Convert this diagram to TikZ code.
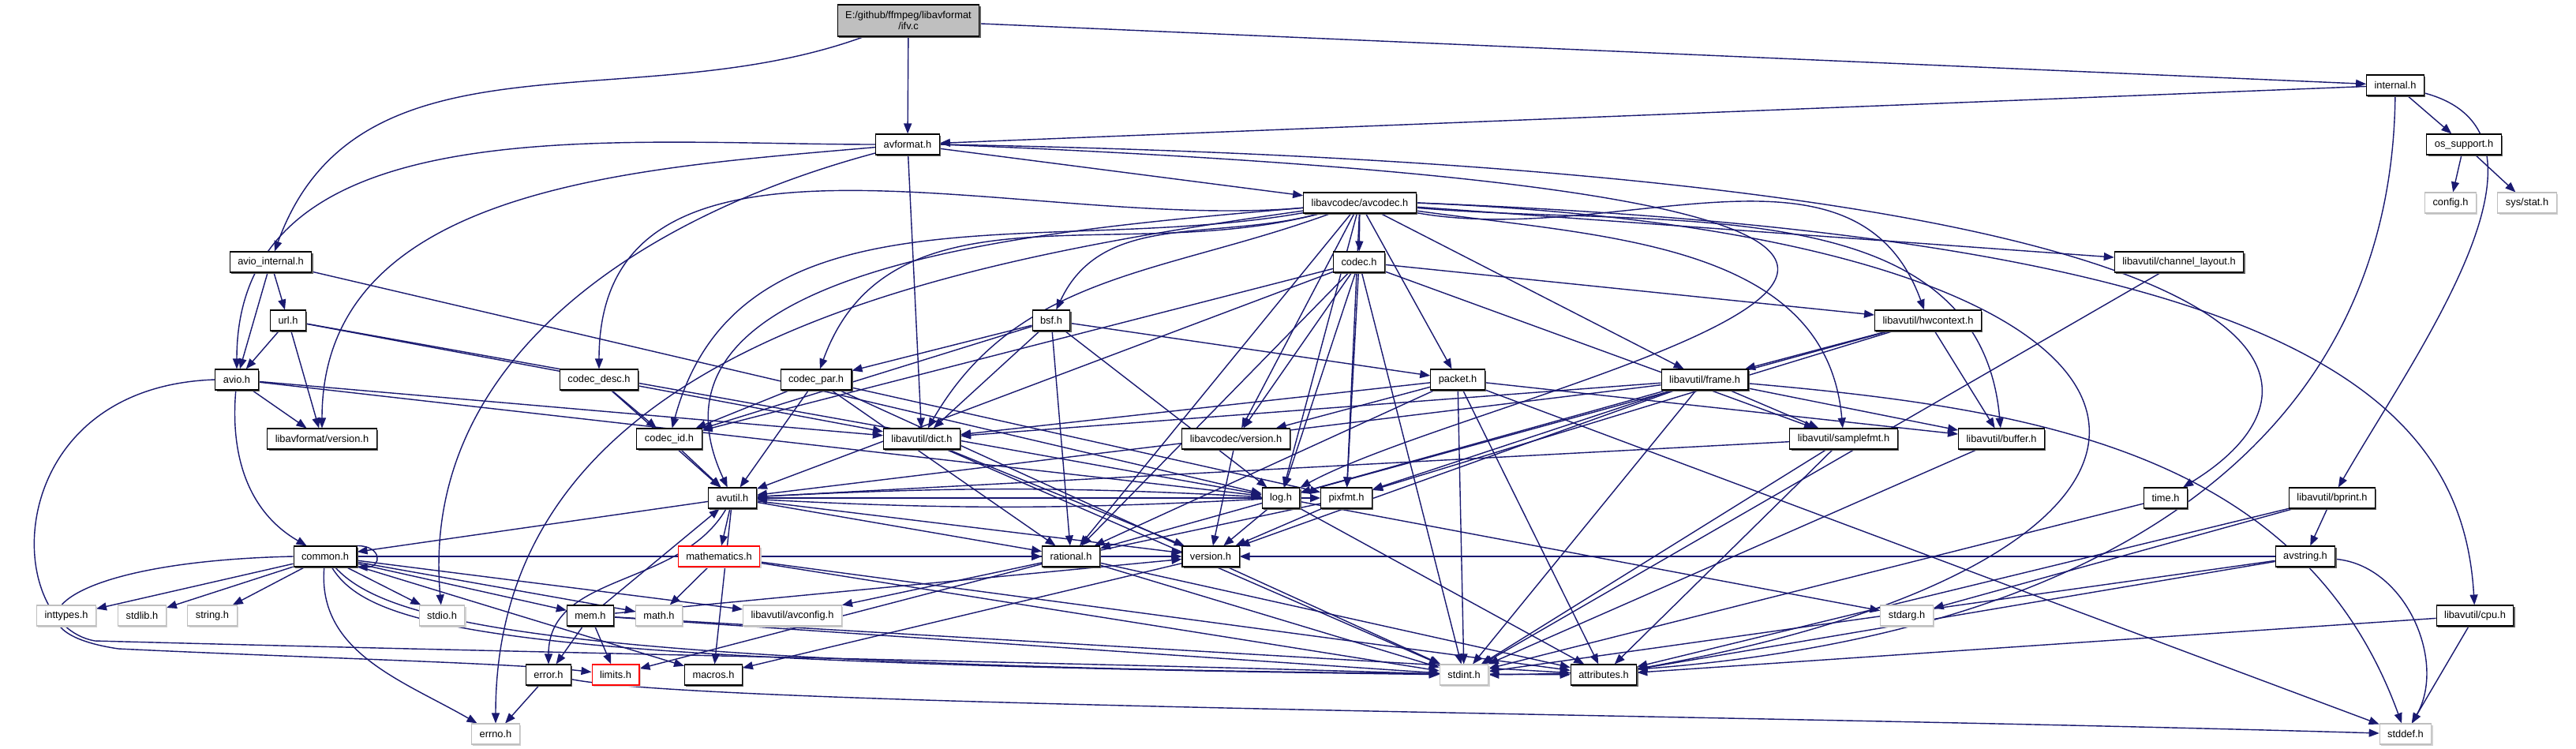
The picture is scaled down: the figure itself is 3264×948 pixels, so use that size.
\documentclass[tikz,border=0pt]{standalone}
\usepackage{fontspec}
\setmainfont{Liberation Sans}
\usepackage{tikz}
\usetikzlibrary{arrows.meta, positioning, shadows}
\definecolor{edgeblue}{RGB}{25,25,112}
\definecolor{sysgrey}{RGB}{191,191,191}
\definecolor{rootgrey}{RGB}{191,191,191}
\definecolor{shadegrey}{RGB}{95,95,95}
\pgfdeclarelayer{paper}
\pgfdeclarelayer{edges}
\pgfsetlayers{paper,edges,main}
\tikzset{
  filebox/.style={rectangle, fill=white, line width=0.3pt,
    inner xsep=0.1cm, inner ysep=0pt, minimum height=0.26cm,
    font=\fontsize{3.65}{4}\selectfont},
  hdrbox/.style={filebox, draw=black,
    drop shadow={shadow xshift=0.018cm, shadow yshift=-0.018cm, fill=shadegrey, opacity=1}},
  sysbox/.style={filebox, draw=sysgrey,
    drop shadow={shadow xshift=0.018cm, shadow yshift=-0.018cm, fill=sysgrey!70, opacity=1}},
  cutbox/.style={filebox, draw=red,
    drop shadow={shadow xshift=0.018cm, shadow yshift=-0.018cm, fill=sysgrey!70, opacity=1}},
  rootbox/.style={hdrbox, fill=rootgrey, minimum height=0.4cm, align=center},
  inc/.style={-{Triangle[length=0.13cm, width=0.1cm]}, color=edgeblue, line width=0.4pt}
}

\begin{document}
\begin{tikzpicture}[x=0.01cm, y=0.01cm]
  \begin{pgfonlayer}{paper}
    \fill[white] (0,0) rectangle (3264,-948);
  \end{pgfonlayer}
  \useasboundingbox (0,0) rectangle (3264,-948);

  % libavformat
  \node[rootbox] (ifv) at (1151,-26) {E:/github/ffmpeg/libavformat\\/ifv.c};
  \node[hdrbox] (avformat) at (1150,-183) {avformat.h};
  \node[hdrbox] (internal) at (3035,-108) {internal.h};
  \node[hdrbox] (ossupport) at (3122,-183) {os\_support.h};
  \node[sysbox] (config) at (3105,-257) {config.h};
  \node[sysbox] (sysstat) at (3202,-257) {sys/stat.h};
  \node[hdrbox] (aviointernal) at (343,-332) {avio\_internal.h};
  \node[hdrbox] (url) at (365,-406) {url.h};
  \node[hdrbox] (avio) at (300,-481) {avio.h};
  \node[hdrbox] (lavfversion) at (408,-556) {libavformat/version.h};

  % libavcodec
  \node[hdrbox] (avcodec) at (1723,-257) {libavcodec/avcodec.h};
  \node[hdrbox] (codec) at (1722,-332) {codec.h};
  \node[hdrbox] (bsf) at (1332,-406) {bsf.h};
  \node[hdrbox] (codecdesc) at (759,-481) {codec\_desc.h};
  \node[hdrbox] (codecpar) at (1034,-481) {codec\_par.h};
  \node[hdrbox] (packet) at (1847,-481) {packet.h};
  \node[hdrbox] (codecid) at (848,-556) {codec\_id.h};
  \node[hdrbox] (lavcversion) at (1566,-556) {libavcodec/version.h};

  % libavutil
  \node[hdrbox] (chlayout) at (2761,-332) {libavutil/channel\_layout.h};
  \node[hdrbox] (hwcontext) at (2443,-406) {libavutil/hwcontext.h};
  \node[hdrbox] (frame) at (2160,-481) {libavutil/frame.h};
  \node[hdrbox] (dict) at (1168,-556) {libavutil/dict.h};
  \node[hdrbox] (samplefmt) at (2336,-556) {libavutil/samplefmt.h};
  \node[hdrbox] (buffer) at (2536,-556) {libavutil/buffer.h};
  \node[hdrbox] (avutil) at (928,-631) {avutil.h};
  \node[hdrbox] (log) at (1623,-631) {log.h};
  \node[hdrbox] (pixfmt) at (1706,-631) {pixfmt.h};
  \node[hdrbox] (time) at (2744,-631) {time.h};
  \node[hdrbox] (bprint) at (2955,-631) {libavutil/bprint.h};
  \node[hdrbox] (common) at (412,-705) {common.h};
  \node[cutbox] (mathematics) at (911,-705) {mathematics.h};
  \node[hdrbox] (rational) at (1357,-705) {rational.h};
  \node[hdrbox] (version) at (1534,-705) {version.h};
  \node[hdrbox] (avstring) at (2921,-705) {avstring.h};
  \node[hdrbox] (mem) at (748,-780) {mem.h};
  \node[hdrbox] (cpu) at (3136,-780) {libavutil/cpu.h};
  \node[hdrbox] (error) at (695,-855) {error.h};
  \node[cutbox] (limits) at (780,-855) {limits.h};
  \node[hdrbox] (macros) at (904,-855) {macros.h};
  \node[hdrbox] (attributes) at (2032,-855) {attributes.h};

  % system headers
  \node[sysbox] (inttypes) at (84,-780) {inttypes.h};
  \node[sysbox] (stdlib) at (180,-780) {stdlib.h};
  \node[sysbox] (string) at (269,-780) {string.h};
  \node[sysbox] (stdio) at (560,-780) {stdio.h};
  \node[sysbox] (math) at (835,-780) {math.h};
  \node[sysbox] (avconfig) at (1004,-780) {libavutil/avconfig.h};
  \node[sysbox] (stdarg) at (2416,-780) {stdarg.h};
  \node[sysbox] (stdint) at (1855,-855) {stdint.h};
  \node[sysbox] (errno) at (628,-930) {errno.h};
  \node[sysbox] (stddef) at (3048,-930) {stddef.h};

  \begin{pgfonlayer}{edges}
  % root and libavformat
  \draw[inc] (ifv) -- (avformat);
  \draw[inc] (ifv) to[out=200, in=70] (aviointernal);
  \draw[inc] (ifv) -- (internal);
  \draw[inc] (internal) -- (avformat);
  \draw[inc] (internal) -- (ossupport);
  \draw[inc] (internal) .. controls (3030,-600) and (2600,-850) .. (stdint);
  \draw[inc] (internal) to[out=-15, in=60] (bprint);
  \foreach \t in {config,sysstat} \draw[inc] (ossupport) -- (\t);
  \draw[inc] (avformat) to[out=180, in=90] (avio);
  \draw[inc] (avformat) to[out=185, in=90] (lavfversion);
  \draw[inc] (avformat) to[out=195, in=95] (stdio);
  \draw[inc] (avformat) -- (dict);
  \draw[inc] (avformat) -- (avcodec);
  \draw[inc] (avformat.east) .. controls (2950,-215) and (2990,-480) .. (time);
  \draw[inc] (avformat.east) .. controls (3100,-260) and (1900,-480) .. (log);
  \foreach \t in {avio,url,log} \draw[inc] (aviointernal) -- (\t);
  \foreach \t in {avio,lavfversion,dict,log} \draw[inc] (url) -- (\t);
  \foreach \t in {lavfversion,dict,log} \draw[inc] (avio) -- (\t);
  \draw[inc] (avio) to[out=-95, in=150] (common);
  \draw[inc] (avio.west) .. controls (0,-490) and (0,-790) .. (120,-812)
    .. controls (800,-830) and (1400,-840) .. (stdint);

  % libavcodec
  \draw[inc] (avcodec) -- (codec);
  \draw[inc] (avcodec) to[out=195, in=65] (bsf);
  \draw[inc] (avcodec) to[out=185, in=90] (codecdesc);
  \draw[inc] (avcodec) to[out=190, in=75] (codecid);
  \draw[inc] (avcodec) to[out=195, in=70] (codecpar);
  \draw[inc] (avcodec) to[out=185, in=115] (avutil);
  \draw[inc] (avcodec) to[out=188, in=90] (errno);
  \draw[inc] (avcodec) to[out=200, in=60] (dict);
  \foreach \t in {packet,lavcversion,log,pixfmt,rational,frame,chlayout}
    \draw[inc] (avcodec) -- (\t);
  \draw[inc] (avcodec) to[out=-10, in=110] (hwcontext);
  \draw[inc] (avcodec) to[out=-8, in=95] (samplefmt);
  \draw[inc] (avcodec) to[out=-5, in=95] (buffer);
  \draw[inc] (avcodec.east) .. controls (2900,-300) and (3120,-500) .. (cpu);
  \draw[inc] (avcodec.east) .. controls (2850,-300) and (2900,-700) .. (attributes);
  \foreach \t in {codecid,lavcversion,log,pixfmt,rational,avutil,stdint,hwcontext,samplefmt}
    \draw[inc] (codec) -- (\t);
  \foreach \t in {dict,log,rational,codecid,codecpar,packet} \draw[inc] (bsf) -- (\t);
  \foreach \t in {avutil,codecid} \draw[inc] (codecdesc) -- (\t);
  \foreach \t in {stdint,avutil,rational,pixfmt,codecid} \draw[inc] (codecpar) -- (\t);
  \draw[inc] (codecid) -- (avutil);
  \foreach \t in {stddef,stdint,attributes,buffer,dict,rational,lavcversion}
    \draw[inc] (packet) -- (\t);
  \draw[inc] (lavcversion) -- (version);

  % libavutil
  \draw[inc] (frame) to[out=-5, in=110] (stddef);
  \foreach \t in {stdint,avutil,buffer,dict,rational,samplefmt,pixfmt,version}
    \draw[inc] (frame) -- (\t);
  \foreach \t in {buffer,frame,log,pixfmt} \draw[inc] (hwcontext) -- (\t);
  \foreach \t in {stdint,avutil,attributes} \draw[inc] (samplefmt) -- (\t);
  \draw[inc] (buffer) -- (stdint);
  \draw[inc] (dict) -- (stdint);
  \draw[inc] (dict) -- (version);
  \draw[inc] (chlayout) -- (stdint);
  \draw[inc] (cpu) -- (stddef);
  \draw[inc] (cpu) -- (attributes);
  \draw[inc] (time) -- (stdint);
  \foreach \t in {stdarg,attributes,avstring} \draw[inc] (bprint) -- (\t);
  \draw[inc] (avstring) to[out=-5, in=60] (stddef);
  \foreach \t in {stdint,attributes,version} \draw[inc] (avstring) -- (\t);
  \foreach \t in {common,rational,version,macros,mathematics,pixfmt}
    \draw[inc] (avutil) -- (\t);
  \draw[inc] (avutil) to[out=-120, in=90] (error);
  \draw[inc] (avutil) to[bend left=3] (log);
  \draw[inc] (log) to[bend left=3] (avutil);
  \foreach \t in {inttypes,stdlib,string,stdio,mem,math,avconfig,macros,version}
    \draw[inc] (common) -- (\t);
  \draw[inc] (common) to[out=-95, in=150] (errno);
  \draw[inc] (common.west) .. controls (60,-712) and (0,-800) .. (150,-822)
    .. controls (400,-834) and (650,-840) .. (limits);
  \draw[inc] (common) .. controls (470,-800) and (650,-840) .. (stdint);
  \draw[inc] (common) .. controls (490,-790) and (700,-848) .. (attributes);
  \draw[inc] (common.north east) to[out=0, in=0, looseness=3] (common.south east);
  \draw[inc] (error) -- (errno);
  \draw[inc] (error) .. controls (900,-895) and (2200,-905) .. (stddef);
  \foreach \t in {limits,error,avutil,stdint,attributes,version} \draw[inc] (mem) -- (\t);
  \foreach \t in {math,rational,stdint,attributes} \draw[inc] (mathematics) -- (\t);
  \foreach \t in {limits,stdint,attributes} \draw[inc] (rational) -- (\t);
  \draw[inc] (version) -- (macros);
  \foreach \t in {stdarg,attributes,version} \draw[inc] (log) -- (\t);
  \foreach \t in {avconfig,version} \draw[inc] (pixfmt) -- (\t);
  \end{pgfonlayer}
\end{tikzpicture}
\end{document}
